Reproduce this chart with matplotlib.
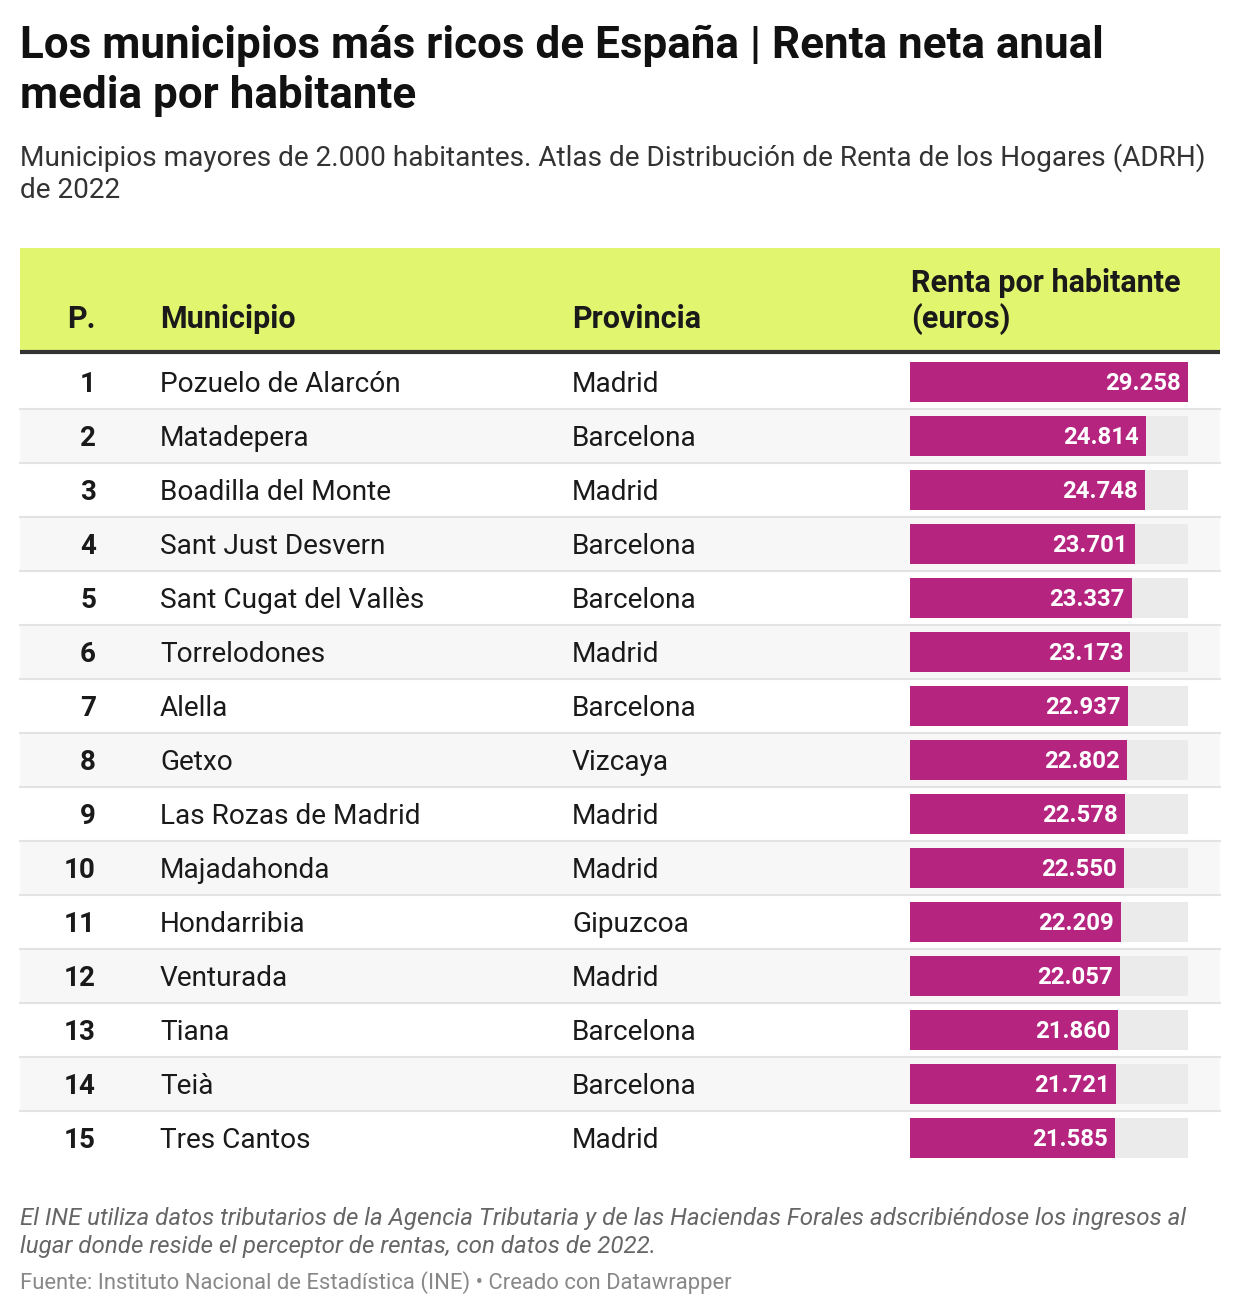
import matplotlib.pyplot as plt
from matplotlib.patches import Rectangle

plt.rcParams['font.family'] = ['Roboto', 'DejaVu Sans']

municipios = ["Pozuelo de Alarcón", "Matadepera", "Boadilla del Monte", "Sant Just Desvern",
              "Sant Cugat del Vallès", "Torrelodones", "Alella", "Getxo", "Las Rozas de Madrid",
              "Majadahonda", "Hondarribia", "Venturada", "Tiana", "Teià", "Tres Cantos"]
provincias = ["Madrid", "Barcelona", "Madrid", "Barcelona", "Barcelona", "Madrid", "Barcelona",
              "Vizcaya", "Madrid", "Madrid", "Gipuzcoa", "Madrid", "Barcelona", "Barcelona", "Madrid"]
renta = [29258, 24814, 24748, 23701, 23337, 23173, 22937, 22802, 22578, 22550,
         22209, 22057, 21860, 21721, 21585]
posicion = list(range(1, len(renta) + 1))

W, H = 1240, 1316
fig = plt.figure(figsize=(W / 100, H / 100), dpi=100)
ax = fig.add_axes([0, 0, 1, 1])
ax.set_xlim(0, W)
ax.set_ylim(H, 0)
ax.axis('off')

# titulos
ax.text(20, 46, "Los municipios más ricos de España | Renta neta anual", fontsize=31.7,
        fontweight='bold', color='#111111', va='center')
ax.text(20, 96, "media por habitante", fontsize=31.7, fontweight='bold', color='#111111', va='center')
ax.text(20, 158, "Municipios mayores de 2.000 habitantes. Atlas de Distribución de Renta de los Hogares (ADRH)",
        fontsize=20.2, color='#333333', va='center')
ax.text(20, 191, "de 2022", fontsize=20.2, color='#333333', va='center')

# cabecera
top, head_bot, row_h = 248, 352, 54
ax.add_patch(Rectangle((20, top), 1200, head_bot - top, color='#e1f56e', lw=0))
ax.plot([20, 1220], [head_bot, head_bot], color='#333333', lw=3, solid_capstyle='butt')
hdr = dict(fontsize=22, fontweight='bold', color='#1a1a1a', va='center')
ax.text(96, 319, "P.", ha='right', **hdr)
ax.text(160, 319, "Municipio", ha='left', **hdr)
ax.text(572, 319, "Provincia", ha='left', **hdr)
ax.text(911, 283, "Renta por habitante", ha='left', **hdr)
ax.text(911, 319, "(euros)", ha='left', **hdr)

row0 = head_bot + 3
n = len(renta)
for i in range(n):
    y0 = row0 + i * row_h
    yc = y0 + row_h / 2 + 3
    if i % 2 == 1:
        ax.add_patch(Rectangle((20, y0), 1200, row_h, color='#f7f7f7', lw=0))
    if i > 0:
        ax.plot([20, 1220], [y0, y0], color='#e3e3e3', lw=1.5)
    ax.text(96, yc, str(posicion[i]), ha='right', va='center', fontsize=20,
            fontweight='bold', color='#1a1a1a')
    ax.text(160, yc, municipios[i], ha='left', va='center', fontsize=20.2, color='#1a1a1a')
    ax.text(572, yc, provincias[i], ha='left', va='center', fontsize=20.2, color='#1a1a1a')

# barras
bx0, bx1 = 910, 1188
ytop, ybot = row0, row0 + n * row_h
bax = fig.add_axes([bx0 / W, 1 - ybot / H, (bx1 - bx0) / W, (ybot - ytop) / H])
bax.patch.set_alpha(0)
bax.axis('off')
vmax = max(renta)
bax.set_xlim(0, vmax)
bax.set_ylim(n - 0.5, -0.5)
ys = list(range(n))
bax.barh(ys, [vmax] * n, height=40 / row_h, color='#ebebeb', lw=0)
bax.barh(ys, renta, height=40 / row_h, color='#b5247f', lw=0)
for i, v in enumerate(renta):
    label = f"{v:,}".replace(",", ".")
    bax.annotate(label, (v, i), xytext=(-7, -1), textcoords='offset pixels', ha='right',
                 va='center', fontsize=17.2, fontweight='bold', color='white')

# notas
ax.text(20, 1219, "El INE utiliza datos tributarios de la Agencia Tributaria y de las Haciendas Forales adscribiéndose los ingresos al",
        fontsize=17.4, style='italic', color='#666666', va='center')
ax.text(20, 1247, "lugar donde reside el perceptor de rentas, con datos de 2022.",
        fontsize=17.4, style='italic', color='#666666', va='center')
ax.text(20, 1283, "Fuente: Instituto Nacional de Estadística (INE) • Creado con Datawrapper",
        fontsize=15.8, color='#888888', va='center')

fig.savefig('out.png', dpi=100, facecolor='white')
